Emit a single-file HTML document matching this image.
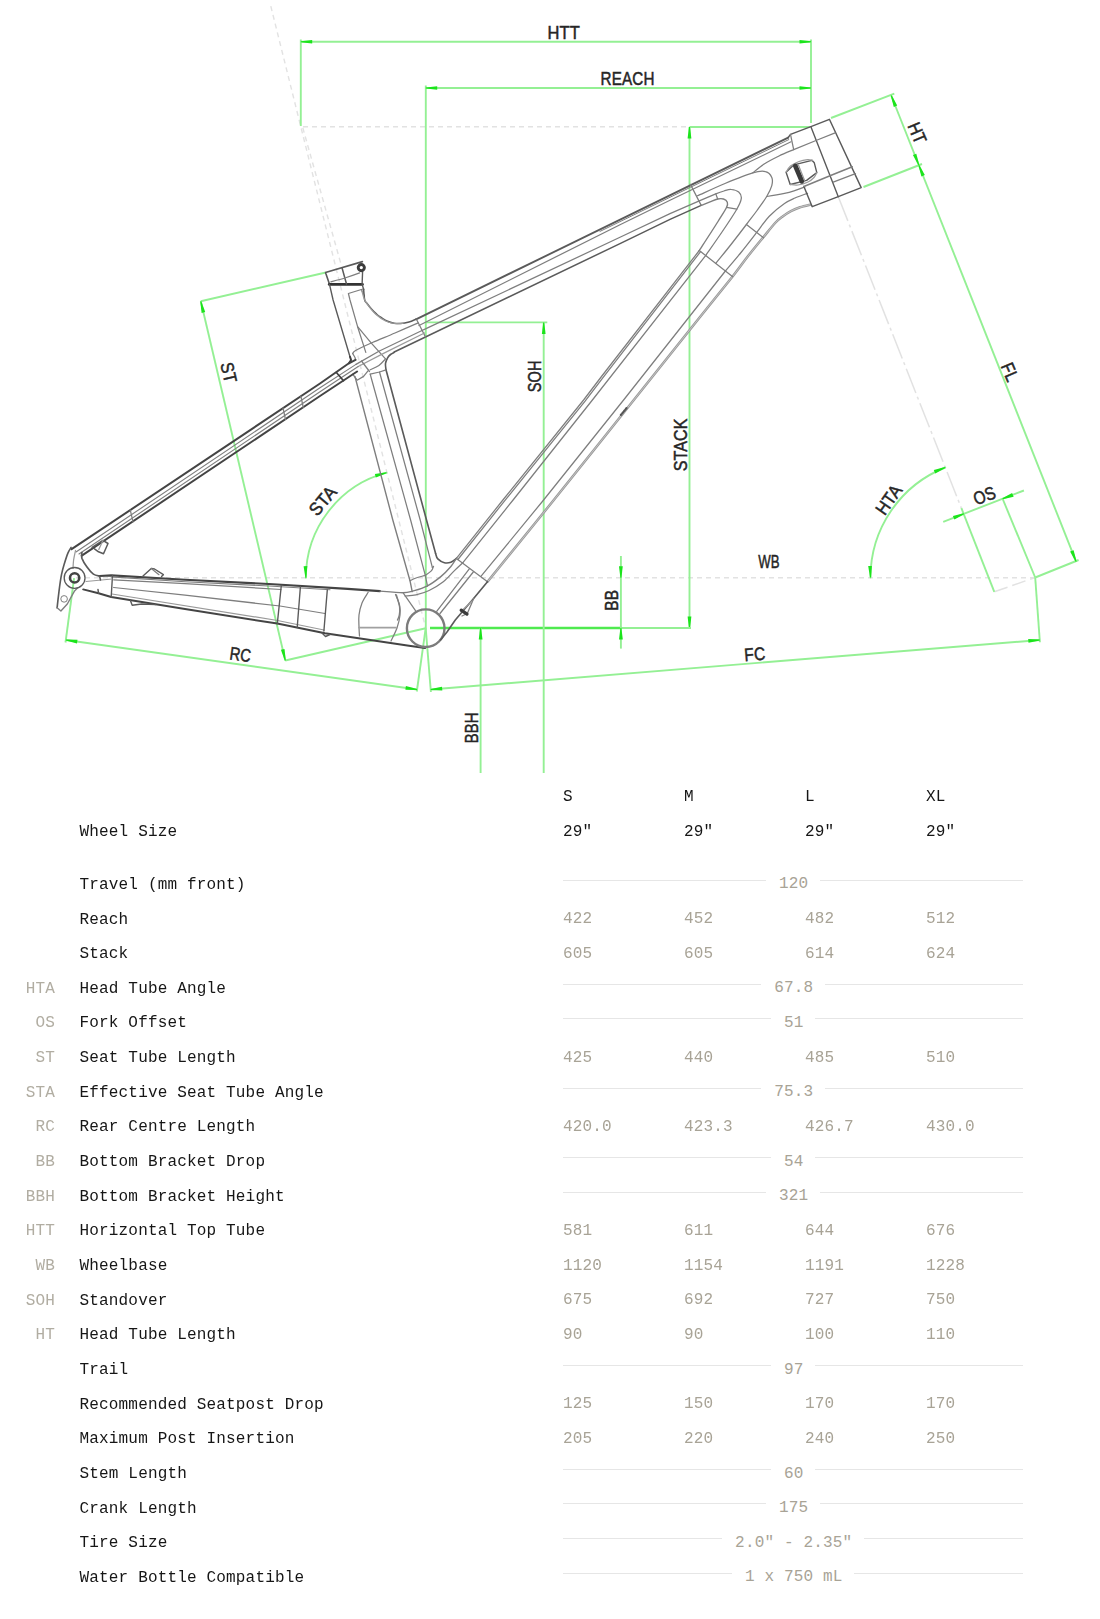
<!DOCTYPE html>
<html lang="en">
<head>
<meta charset="utf-8">
<title>Geometry</title>
<style>
html,body{margin:0;padding:0;background:#fff;}
body{width:1100px;height:1619px;position:relative;overflow:hidden;font-family:"Liberation Mono","DejaVu Sans Mono",monospace;font-size:16px;line-height:20px;letter-spacing:0.17px;color:#161616;}
#diagram{position:absolute;left:0;top:0;width:1100px;height:790px;display:block;}
.t{position:absolute;white-space:pre;height:20px;}
.ab{color:#b1ada2;text-align:right;left:0;width:55px;}
.lb{left:79.5px;}
.v{color:#a8a396;}
.hd{color:#161616;}
.ln{position:absolute;left:563px;width:460px;height:1px;background:#e6e6e6;}
.c{position:absolute;left:563px;width:460px;text-align:center;height:20px;}
.c span{background:#fff;padding:0 11.5px 0 13px;color:#a8a396;white-space:pre;}
#geo{filter:blur(0.3px);}
</style>
</head>
<body>
<svg id="diagram" width="1100" height="790" viewBox="0 0 1100 790" font-family="'Liberation Sans','DejaVu Sans',sans-serif">
<g id="construction">
<line x1="270.8" y1="6.2" x2="425.7" y2="628.2" stroke="#e2e2e2" stroke-width="1.4" stroke-dasharray="5 4"/>
<line x1="302.8" y1="127.8" x2="341.5" y2="266" stroke="#e2e2e2" stroke-width="1.4" stroke-dasharray="5 4"/>
<line x1="303" y1="126.8" x2="809" y2="126.8" stroke="#e2e2e2" stroke-width="1.4" stroke-dasharray="5 4"/>
<line x1="76" y1="577.7" x2="1035" y2="577.7" stroke="#e2e2e2" stroke-width="1.4" stroke-dasharray="5 4"/>
<line x1="838.3" y1="196.7" x2="961.4" y2="508.2" stroke="#e2e2e2" stroke-width="1.5" stroke-dasharray="26 4 3 4"/>
<line x1="994.3" y1="591.8" x2="1035.2" y2="577.5" stroke="#e2e2e2" stroke-width="1.5" stroke-dasharray="14 5"/>
</g>
<g id="dims">
<line x1="300.8" y1="41.8" x2="811" y2="41.8" stroke="#94f094" stroke-width="1.9" />
<line x1="300.8" y1="39.5" x2="300.8" y2="126" stroke="#94f094" stroke-width="1.9" />
<line x1="811" y1="39.5" x2="811" y2="123" stroke="#94f094" stroke-width="1.9" />
<polygon points="300.8,41.2 312.2,39.9 312.2,43.6 300.8,42.2" fill="#1be41b"/>
<polygon points="811,42.2 799.5,43.6 799.5,39.9 811,41.2" fill="#1be41b"/>
<line x1="425.8" y1="88" x2="811" y2="88" stroke="#94f094" stroke-width="1.9" />
<line x1="425.8" y1="85.5" x2="425.8" y2="628.2" stroke="#94f094" stroke-width="1.9" />
<polygon points="425.8,87.5 437.2,86.2 437.2,89.8 425.8,88.5" fill="#1be41b"/>
<polygon points="811,88.5 799.5,89.8 799.5,86.2 811,87.5" fill="#1be41b"/>
<line x1="689.5" y1="127" x2="810" y2="127" stroke="#94f094" stroke-width="1.9" />
<line x1="689.5" y1="127" x2="689.5" y2="628" stroke="#94f094" stroke-width="1.9" />
<polygon points="690,127 691.4,138.5 687.6,138.5 689,127" fill="#1be41b"/>
<polygon points="689,628 687.6,616.5 691.4,616.5 690,628" fill="#1be41b"/>
<line x1="430" y1="628" x2="622" y2="628" stroke="#4fea4f" stroke-width="2.6" />
<line x1="622" y1="628" x2="691" y2="628" stroke="#94f094" stroke-width="1.9" />
<line x1="425.8" y1="322.4" x2="547.3" y2="322.4" stroke="#94f094" stroke-width="1.9" />
<line x1="543.7" y1="322.4" x2="543.7" y2="773" stroke="#94f094" stroke-width="1.9" />
<polygon points="544.2,322.4 545.6,333.9 541.9,333.9 543.2,322.4" fill="#1be41b"/>
<line x1="480.6" y1="628" x2="480.6" y2="773" stroke="#94f094" stroke-width="1.9" />
<polygon points="481.1,628 482.5,639.5 478.8,639.5 480.1,628" fill="#1be41b"/>
<line x1="620.9" y1="556" x2="620.9" y2="648.6" stroke="#94f094" stroke-width="1.9" />
<polygon points="620.4,577.7 619,566.2 622.8,566.2 621.4,577.7" fill="#1be41b"/>
<polygon points="621.4,628 622.8,639.5 619,639.5 620.4,628" fill="#1be41b"/>
<line x1="325.8" y1="272.5" x2="200.8" y2="301.2" stroke="#94f094" stroke-width="1.9" />
<line x1="200.8" y1="301.2" x2="285.3" y2="660.5" stroke="#94f094" stroke-width="1.9" />
<line x1="285.3" y1="660.5" x2="425.7" y2="628.2" stroke="#94f094" stroke-width="1.9" />
<polygon points="201.2,301.1 205.2,312 201.6,312.9 200.3,301.4" fill="#1be41b"/>
<polygon points="284.8,660.6 280.9,649.7 284.5,648.9 285.8,660.4" fill="#1be41b"/>
<path d="M305.9 577.7A108.7 108.7 0 0 1 386.5 472.7" fill="none" stroke="#94f094" stroke-width="1.9" stroke-linejoin="round" stroke-linecap="round" />
<polygon points="305.4,577.7 303.6,566.3 307.3,566.1 306.4,577.7" fill="#1be41b"/>
<polygon points="386.6,473.2 375.8,477.5 374.9,473.9 386.3,472.2" fill="#1be41b"/>
<line x1="65.9" y1="640" x2="417" y2="689.5" stroke="#94f094" stroke-width="1.9" />
<line x1="74.1" y1="578.1" x2="65.5" y2="642.5" stroke="#94f094" stroke-width="1.9" />
<line x1="425.7" y1="628.2" x2="416.8" y2="691.5" stroke="#94f094" stroke-width="1.9" />
<polygon points="66,639.5 77.5,639.8 77,643.4 65.8,640.5" fill="#1be41b"/>
<polygon points="416.9,690 405.4,689.7 405.9,686.1 417.1,689" fill="#1be41b"/>
<line x1="430.7" y1="689.5" x2="1039.8" y2="640" stroke="#94f094" stroke-width="1.9" />
<line x1="425.7" y1="628.2" x2="430.9" y2="692" stroke="#94f094" stroke-width="1.9" />
<line x1="1035.2" y1="577.5" x2="1039.9" y2="642.3" stroke="#94f094" stroke-width="1.9" />
<polygon points="430.7,689 442,686.7 442.3,690.4 430.7,690" fill="#1be41b"/>
<polygon points="1039.8,640.5 1028.5,642.8 1028.2,639.1 1039.8,639.5" fill="#1be41b"/>
<path d="M870.5 577.5A118.4 118.4 0 0 1 945.2 467.5" fill="none" stroke="#94f094" stroke-width="1.9" stroke-linejoin="round" stroke-linecap="round" />
<polygon points="870,577.5 868.2,566.1 871.9,565.9 871,577.5" fill="#1be41b"/>
<polygon points="945.4,467.9 935.2,473.4 933.8,470 945,467" fill="#1be41b"/>
<line x1="961.4" y1="508.2" x2="994.3" y2="591.8" stroke="#94f094" stroke-width="1.9" />
<line x1="1002.3" y1="498" x2="1035.2" y2="577.5" stroke="#94f094" stroke-width="1.9" />
<line x1="943.2" y1="521.8" x2="1023.9" y2="490.5" stroke="#94f094" stroke-width="1.9" />
<polygon points="964.1,514.3 954.4,519.6 952.9,515.9 963.7,513.3" fill="#1be41b"/>
<polygon points="1002.4,498.3 1012.1,493 1013.6,496.7 1002.8,499.3" fill="#1be41b"/>
<line x1="891.2" y1="95.5" x2="1076.1" y2="561.6" stroke="#94f094" stroke-width="1.9" />
<line x1="831" y1="118" x2="894.3" y2="93.6" stroke="#94f094" stroke-width="1.9" />
<line x1="863.5" y1="187" x2="922" y2="164" stroke="#94f094" stroke-width="1.9" />
<line x1="1035.2" y1="577.5" x2="1078.6" y2="560" stroke="#94f094" stroke-width="1.9" />
<polygon points="891.7,95.3 897.2,105.5 893.8,106.9 890.8,95.7" fill="#1be41b"/>
<polygon points="918.4,165.3 912.9,155.1 916.3,153.7 919.3,164.9" fill="#1be41b"/>
<polygon points="919.3,164.9 924.8,175.1 921.4,176.5 918.4,165.3" fill="#1be41b"/>
<polygon points="1075.6,561.8 1070.1,551.6 1073.6,550.2 1076.6,561.4" fill="#1be41b"/>
</g>
<g id="frame">
<polyline points="416,319.3 788.2,137.6" fill="none" stroke="#5a5a5a" stroke-width="1.88" stroke-linejoin="round" stroke-linecap="round" />
<polyline points="600,231.4 690.4,187.3 788.8,139.6" fill="none" stroke="#7e7e7e" stroke-width="1.0" stroke-linejoin="round" stroke-linecap="round" />
<polyline points="419,325.5 620,224.7 670,200.3 791,141.8" fill="none" stroke="#7e7e7e" stroke-width="1.25" stroke-linejoin="round" stroke-linecap="round" />
<polyline points="422,330.5 426,328.6 620,237.3 670,213.6 699.3,200.9" fill="none" stroke="#7e7e7e" stroke-width="1.25" stroke-linejoin="round" stroke-linecap="round" />
<polyline points="394.2,352 426,336.8 620,243.6 670,219.4 701.2,205.4" fill="none" stroke="#5a5a5a" stroke-width="1.5" stroke-linejoin="round" stroke-linecap="round" />
<polyline points="416.3,319 425.5,337" fill="none" stroke="#7e7e7e" stroke-width="1.25" stroke-linejoin="round" stroke-linecap="round" />
<polyline points="690.4,184.4 701.2,205.4" fill="none" stroke="#7e7e7e" stroke-width="1.25" stroke-linejoin="round" stroke-linecap="round" />
<path d="M701.2 205.4C702.7 204.8 707.2 202.9 710 201.8C712.8 200.7 715.5 199.5 717.7 199C720 198.5 721.9 198.5 723.5 199C725.1 199.5 726.8 200.8 727.3 202.2C727.8 203.6 728.1 204.1 726.6 207.3C725.1 210.5 722.5 214.3 718 221.5C713.5 228.7 702.4 245.7 699.3 250.5" fill="none" stroke="#7e7e7e" stroke-width="1.38" stroke-linejoin="round" stroke-linecap="round" />
<polyline points="715.8,193.9 717.7,199" fill="none" stroke="#7e7e7e" stroke-width="1.25" stroke-linejoin="round" stroke-linecap="round" />
<polyline points="726.6,207.3 736.8,209.2" fill="none" stroke="#7e7e7e" stroke-width="1.25" stroke-linejoin="round" stroke-linecap="round" />
<path d="M699.3 200.9C702 199.7 711.7 195.6 715.8 193.9C719.9 192.2 721.5 191.7 724 191C726.5 190.3 728.6 189.3 731.1 189.5C733.6 189.7 737 190.5 738.7 192C740.4 193.5 741.6 195.5 741.3 198.4C741 201.3 740 203.6 736.8 209.2C733.6 214.8 727.2 224.3 722 232C716.8 239.7 708.3 251.7 705.6 255.6" fill="none" stroke="#7e7e7e" stroke-width="1.25" stroke-linejoin="round" stroke-linecap="round" />
<path d="M697.4 195.8C702 193.8 715.8 187.3 725 183.5C734.2 179.7 746 174.9 752.7 172.9C759.5 170.9 762.3 170.8 765.5 171.6C768.7 172.3 770.8 175.1 771.8 177.4C772.8 179.7 772.6 182.4 771.8 185.6C770.9 188.8 769.2 192.3 766.7 196.5C764.2 200.7 760.4 205.8 757 210.5C753.6 215.2 750.7 218.8 746.4 224.5C742.1 230.2 736.1 238 731 244.5C725.9 251 718.3 260.2 715.8 263.3" fill="none" stroke="#7e7e7e" stroke-width="1.25" stroke-linejoin="round" stroke-linecap="round" />
<path d="M752.7 172.9C754.6 171.4 759.8 166.8 764.2 164C768.6 161.2 774.1 158.4 779 156C783.9 153.6 791.2 150.7 793.7 149.6" fill="none" stroke="#7e7e7e" stroke-width="1.25" stroke-linejoin="round" stroke-linecap="round" />
<path d="M804.9 186.9C803.1 187.6 797.4 189.7 794 190.8C790.6 191.9 789 192.4 784.5 193.3C780 194.2 769.7 196 766.7 196.5" fill="none" stroke="#7e7e7e" stroke-width="1.25" stroke-linejoin="round" stroke-linecap="round" />
<path d="M807.5 193.3C805.4 194.1 798.8 196.3 795 198C791.2 199.7 788.8 200.5 784.5 203.5C780.2 206.5 774 211.3 769.3 216.2C764.6 221.1 761.2 226.6 756.5 232.7C751.8 238.8 746.2 246.1 741 252.5C735.8 258.9 728 267.9 725.4 271" fill="none" stroke="#7e7e7e" stroke-width="1.25" stroke-linejoin="round" stroke-linecap="round" />
<polyline points="456.4,558.4 502.9,500 583.6,400 601.5,376.5 699.3,250.5" fill="none" stroke="#7e7e7e" stroke-width="1.25" stroke-linejoin="round" stroke-linecap="round" />
<polyline points="457.9,559.5 504.4,501.1 585.1,401.1 603,377.6 700.6,251.6" fill="none" stroke="#7e7e7e" stroke-width="1.25" stroke-linejoin="round" stroke-linecap="round" />
<polyline points="462.9,562.7 513.1,500 592.4,400 705.6,255.6" fill="none" stroke="#7e7e7e" stroke-width="1.25" stroke-linejoin="round" stroke-linecap="round" />
<polyline points="480.9,576.4 543.6,500 623.6,400 725.4,271" fill="none" stroke="#7e7e7e" stroke-width="1.25" stroke-linejoin="round" stroke-linecap="round" />
<path d="M487.5 581.8C498.6 568.2 529.4 530.3 553.8 500C578.2 469.7 609.4 430.5 633.8 400C658.2 369.5 683.6 337.6 700 317C716.4 296.4 724.5 286.7 732.4 276.7C740.3 266.7 742.4 263.3 747.5 256.8C752.6 250.3 758.2 243.5 762.9 237.8C767.6 232.1 772.2 226.1 775.6 222.5C779 218.9 780.5 218.1 783 216.2C785.5 214.3 788.1 212.6 790.9 211.1C793.7 209.6 796.8 208.4 800 207.3C803.2 206.2 808.3 205.1 810 204.7" fill="none" stroke="#989898" stroke-width="2.5" stroke-linejoin="round" stroke-linecap="round" />
<path d="M487.5 581.8C498.6 568.2 529.4 530.3 553.8 500C578.2 469.7 609.4 430.5 633.8 400C658.2 369.5 683.6 337.6 700 317C716.4 296.4 724.5 286.7 732.4 276.7C740.3 266.7 742.4 263.3 747.5 256.8C752.6 250.3 758.2 243.5 762.9 237.8C767.6 232.1 772.2 226.1 775.6 222.5C779 218.9 780.5 218.1 783 216.2C785.5 214.3 788.1 212.6 790.9 211.1C793.7 209.6 796.8 208.4 800 207.3C803.2 206.2 808.3 205.1 810 204.7" fill="none" stroke="#ffffff" stroke-width="0.44" stroke-linejoin="round" stroke-linecap="round" />
<polyline points="746.4,224.5 763.5,237.8" fill="none" stroke="#7e7e7e" stroke-width="1.25" stroke-linejoin="round" stroke-linecap="round" />
<polyline points="699.3,250.5 732.4,276.6" fill="none" stroke="#7e7e7e" stroke-width="1.25" stroke-linejoin="round" stroke-linecap="round" />
<polyline points="456.4,558.4 487.5,581.8" fill="none" stroke="#7e7e7e" stroke-width="1.25" stroke-linejoin="round" stroke-linecap="round" />
<polyline points="620.8,415 626.6,408" fill="none" stroke="#555" stroke-width="2.12" stroke-linejoin="round" stroke-linecap="round" stroke-dasharray="1.5 1.1"/>
<polyline points="788,137.8 790.5,134.4 810.9,126.7 829.4,119.3 861.2,187.6 838.3,196.7 812.2,206.7 803.9,186.5" fill="none" stroke="#5a5a5a" stroke-width="1.44" stroke-linejoin="round" stroke-linecap="round" />
<polyline points="810.9,126.7 838.3,196.7" fill="none" stroke="#5a5a5a" stroke-width="1.38" stroke-linejoin="round" stroke-linecap="round" />
<polyline points="790.5,134.4 793.7,149.6 816,140.5 835.1,132.8" fill="none" stroke="#7e7e7e" stroke-width="1.25" stroke-linejoin="round" stroke-linecap="round" />
<polyline points="803.9,186.5 830,175.7 852.3,166.8" fill="none" stroke="#7e7e7e" stroke-width="1.5" stroke-linejoin="round" stroke-linecap="round" />
<polyline points="833.2,182.1 855.5,173.6" fill="none" stroke="#7e7e7e" stroke-width="1.25" stroke-linejoin="round" stroke-linecap="round" />
<polyline points="786.1,172.2 793.9,164.8 811.9,160.3 814.3,162.8 816.8,172.6 806.6,180.4 790.2,184.5 786.1,172.2" fill="none" stroke="#5a5a5a" stroke-width="1.38" stroke-linejoin="round" stroke-linecap="round" />
<path d="M786.1 172.2C786.8 171.2 788.4 167.8 790.5 166C792.6 164.2 796.2 162.6 799 161.5C801.8 160.4 805.2 159.8 807.5 159.6C809.8 159.4 811.7 160.2 812.5 160.3" fill="none" stroke="#9a9a9a" stroke-width="1.25" stroke-linejoin="round" stroke-linecap="round" />
<path d="M790.2 184.5C791.5 184.6 795.1 185.4 798 185C800.9 184.6 804.8 183.6 807.5 182.3C810.2 181.1 812.5 179.1 814 177.5C815.5 175.9 816.3 173.4 816.8 172.6" fill="none" stroke="#9a9a9a" stroke-width="1.25" stroke-linejoin="round" stroke-linecap="round" />
<polyline points="795.4,166 801.9,181.2" fill="none" stroke="#3a3a3a" stroke-width="4.75" stroke-linejoin="round" stroke-linecap="round" />
<polyline points="798.5,165.2 804.6,180.6" fill="none" stroke="#9a9a9a" stroke-width="1.25" stroke-linejoin="round" stroke-linecap="round" />
<polyline points="329.5,284.3 325.5,272.5 362.4,261.6" fill="none" stroke="#5a5a5a" stroke-width="1.62" stroke-linejoin="round" stroke-linecap="round" />
<polyline points="329.3,284.4 362.4,284.4" fill="none" stroke="#333333" stroke-width="2.88" stroke-linejoin="round" stroke-linecap="round" />
<polyline points="342,267.7 346.5,284" fill="none" stroke="#5a5a5a" stroke-width="1.5" stroke-linejoin="round" stroke-linecap="round" />
<path d="M330.9 281.8C333.2 281.2 340.1 279.5 344.9 278C349.7 276.5 357.2 273.8 359.6 272.9" fill="none" stroke="#7e7e7e" stroke-width="1.25" stroke-linejoin="round" stroke-linecap="round" />
<polyline points="362.6,271.5 362.1,284.4 363.7,289.5" fill="none" stroke="#5a5a5a" stroke-width="1.38" stroke-linejoin="round" stroke-linecap="round" />
<circle cx="361.3" cy="267.6" r="3.1" fill="none" stroke="#3c3c3c" stroke-width="2.9"/>
<polyline points="329.5,284.3 333.1,300 350,356.7" fill="none" stroke="#5a5a5a" stroke-width="1.38" stroke-linejoin="round" stroke-linecap="round" />
<polyline points="350,356.7 351.1,360 348.9,363.3" fill="none" stroke="#404040" stroke-width="2.0" stroke-linejoin="round" stroke-linecap="round" />
<polyline points="354.9,376.4 355.9,380 392.8,520 410,580.7 412.2,591.6" fill="none" stroke="#7e7e7e" stroke-width="1.38" stroke-linejoin="round" stroke-linecap="round" />
<polyline points="363,289 348.4,293.5 350,300 357.6,326.7 365.8,352.4" fill="none" stroke="#7e7e7e" stroke-width="1.25" stroke-linejoin="round" stroke-linecap="round" />
<polyline points="361.5,290 364.5,296" fill="none" stroke="#7e7e7e" stroke-width="1.25" stroke-linejoin="round" stroke-linecap="round" />
<path d="M363.6 289C363.8 290.8 364.1 297.6 364.7 300C365.2 302.4 365.8 301.8 366.9 303.3C368 304.8 369.9 307.2 371.5 309C373.1 310.8 374.9 312.7 376.7 314.2C378.4 315.7 380.2 316.8 382 318C383.8 319.2 385.6 320.4 387.6 321.3C389.6 322.2 391.8 322.8 394 323.2C396.2 323.6 398.2 323.7 400.7 323.5C403.2 323.3 406.4 322.7 409 322C411.6 321.3 414.8 319.6 416 319.1" fill="none" stroke="#5a5a5a" stroke-width="1.5" stroke-linejoin="round" stroke-linecap="round" />
<path d="M361.8 290.5C362.2 292 363.3 296.8 364.5 299.5C365.7 302.2 367.2 304.1 369 306.5C370.8 308.9 372.8 311.6 375.5 314C378.2 316.4 382.2 319.4 385.5 321C388.8 322.6 392.1 323.1 395 323.5C397.9 323.9 401.7 323.4 403 323.4" fill="none" stroke="#9a9a9a" stroke-width="1.25" stroke-linejoin="round" stroke-linecap="round" />
<path d="M394.2 352.4C393.6 352.8 391.6 353.6 390.5 354.5C389.4 355.4 388.4 356.3 387.6 357.8C386.8 359.3 385.8 361.3 385.5 363.3C385.2 365.3 385.9 368.7 386 369.8" fill="none" stroke="#5a5a5a" stroke-width="1.62" stroke-linejoin="round" stroke-linecap="round" />
<polyline points="386,369.8 387.7,376 426.5,520 435.6,553.5" fill="none" stroke="#5a5a5a" stroke-width="1.62" stroke-linejoin="round" stroke-linecap="round" />
<polyline points="370.2,374.2 371.8,380 410.6,520 425.3,575.3 427.5,586.2" fill="none" stroke="#7e7e7e" stroke-width="1.25" stroke-linejoin="round" stroke-linecap="round" />
<polyline points="379.5,372 381.7,380 420.2,520 432.4,567.6" fill="none" stroke="#7e7e7e" stroke-width="1.25" stroke-linejoin="round" stroke-linecap="round" />
<path d="M432.4 567.6C432.6 567.4 433.7 566 433.5 566.5C433.3 567 432.7 569.4 431.3 570.9C429.9 572.4 426.3 574.6 425.3 575.3" fill="none" stroke="#7e7e7e" stroke-width="1.25" stroke-linejoin="round" stroke-linecap="round" />
<path d="M410 580.7C411 580.2 413.4 578.9 416 578C418.6 577.1 423.8 575.8 425.3 575.3" fill="none" stroke="#7e7e7e" stroke-width="1.25" stroke-linejoin="round" stroke-linecap="round" />
<polyline points="370.2,374.2 379.5,372 386,369.8" fill="none" stroke="#7e7e7e" stroke-width="1.25" stroke-linejoin="round" stroke-linecap="round" />
<polyline points="357.6,326.7 371.3,343.1 385.5,358.9" fill="none" stroke="#7e7e7e" stroke-width="1.25" stroke-linejoin="round" stroke-linecap="round" />
<path d="M385.5 358.9C384.4 360 381.4 363.7 378.9 365.5C376.3 367.3 371.6 369.1 370.2 369.8" fill="none" stroke="#7e7e7e" stroke-width="1.25" stroke-linejoin="round" stroke-linecap="round" />
<path d="M418.2 322.9C414.3 324.6 402.6 329.7 395 333C387.4 336.3 378.9 339.6 372.4 342.5C365.9 345.4 359.3 348.4 356 350.2C352.7 352 353.2 352.9 352.7 353.5" fill="none" stroke="#7e7e7e" stroke-width="1.25" stroke-linejoin="round" stroke-linecap="round" />
<polyline points="352.7,353.5 355,357.5 355.5,359.8" fill="none" stroke="#7e7e7e" stroke-width="1.25" stroke-linejoin="round" stroke-linecap="round" />
<polyline points="422,330.5 378.9,351.3 356,364.4" fill="none" stroke="#7e7e7e" stroke-width="1.25" stroke-linejoin="round" stroke-linecap="round" />
<polyline points="424.5,333 385.5,352.4 358.2,366.5" fill="none" stroke="#9a9a9a" stroke-width="1.25" stroke-linejoin="round" stroke-linecap="round" />
<polyline points="352.7,374.2 357.1,380.2 363.6,376.4 368,370.9" fill="none" stroke="#7e7e7e" stroke-width="1.25" stroke-linejoin="round" stroke-linecap="round" />
<polyline points="361.5,361 369.5,371.5" fill="none" stroke="#7e7e7e" stroke-width="1.25" stroke-linejoin="round" stroke-linecap="round" />
<path d="M435.6 553.5C436 554.4 436.3 557.4 437.8 558.9C439.3 560.4 442.2 562.2 444.4 562.7C446.6 563.2 448.9 562.9 450.9 562.2C452.9 561.5 455.5 559 456.4 558.4" fill="none" stroke="#5a5a5a" stroke-width="1.62" stroke-linejoin="round" stroke-linecap="round" />
<polyline points="355.5,359.8 348.9,363.3 320,383.5 71.6,549.2" fill="none" stroke="#444444" stroke-width="2.0" stroke-linejoin="round" stroke-linecap="round" />
<polyline points="356,364.4 320,387.8 76,552" fill="none" stroke="#7e7e7e" stroke-width="1.12" stroke-linejoin="round" stroke-linecap="round" />
<polyline points="358.2,366.5 320,391.8 79,554" fill="none" stroke="#7e7e7e" stroke-width="1.12" stroke-linejoin="round" stroke-linecap="round" />
<polyline points="357.1,371.5 320,396 81.8,555.6" fill="none" stroke="#444444" stroke-width="2.0" stroke-linejoin="round" stroke-linecap="round" />
<polyline points="336.4,372.5 343.5,380.7" fill="none" stroke="#404040" stroke-width="1.75" stroke-linejoin="round" stroke-linecap="round" />
<polyline points="283,408 285.5,419.5" fill="none" stroke="#7e7e7e" stroke-width="1.25" stroke-linejoin="round" stroke-linecap="round" />
<polyline points="130.3,510.2 133,521.8" fill="none" stroke="#7e7e7e" stroke-width="1.25" stroke-linejoin="round" stroke-linecap="round" />
<polyline points="300.8,396 303.3,407.5" fill="none" stroke="#7e7e7e" stroke-width="1.25" stroke-linejoin="round" stroke-linecap="round" />
<path d="M71.1 547.4C70.6 548.4 69.1 550.2 67.9 553.1C66.7 556 65.2 560.9 64.1 564.5C63 568.1 62.4 570.2 61.5 574.7C60.6 579.2 59.7 585.8 59 591.3C58.3 596.8 57.4 605 57.1 607.8" fill="none" stroke="#5a5a5a" stroke-width="1.62" stroke-linejoin="round" stroke-linecap="round" />
<polyline points="57.1,607.8 60.9,611 67.3,604 74.3,591.3 77.5,588" fill="none" stroke="#7e7e7e" stroke-width="1.38" stroke-linejoin="round" stroke-linecap="round" />
<path d="M81.9 552.5C81.9 553.5 81.1 555.8 81.9 558.2C82.8 560.6 85.1 564.5 87 567.1C88.9 569.8 91.3 572.6 93.4 574.1C95.5 575.6 98.7 575.7 99.7 576" fill="none" stroke="#5a5a5a" stroke-width="1.75" stroke-linejoin="round" stroke-linecap="round" />
<path d="M75.5 550.5C75.2 552.1 74 557 73.6 560C73.2 563 73.1 567 73 568.4" fill="none" stroke="#9a9a9a" stroke-width="1.25" stroke-linejoin="round" stroke-linecap="round" />
<circle cx="74.6" cy="577.9" r="10.4" fill="none" stroke="#5a5a5a" stroke-width="1.3"/>
<circle cx="74.6" cy="577.9" r="4.6" fill="none" stroke="#444444" stroke-width="2.6"/>
<polyline points="92.1,547.4 102.9,540.4 108,543.5 103.5,553.7 98.5,551.8 94.5,548.8" fill="none" stroke="#5a5a5a" stroke-width="1.5" stroke-linejoin="round" stroke-linecap="round" />
<polyline points="102.9,540.4 98.8,549.5" fill="none" stroke="#9a9a9a" stroke-width="1.25" stroke-linejoin="round" stroke-linecap="round" />
<circle cx="64.1" cy="598.9" r="3.3" fill="none" stroke="#7e7e7e" stroke-width="1"/>
<polyline points="99.7,576 111.2,575.4 185,579.8 269,584 347.7,588.9 380,591.1" fill="none" stroke="#444444" stroke-width="2.12" stroke-linejoin="round" stroke-linecap="round" />
<polyline points="111.2,576.9 185,581.8 269,586 330,589.7" fill="none" stroke="#7e7e7e" stroke-width="1.12" stroke-linejoin="round" stroke-linecap="round" />
<polyline points="113.7,579.8 185,583.6 281,589.5" fill="none" stroke="#7e7e7e" stroke-width="1.25" stroke-linejoin="round" stroke-linecap="round" />
<polyline points="83.2,589.4 98.5,593.2 111.2,597 185,609.1 277.3,623.6 325,633.2 409,645.7 425,648" fill="none" stroke="#444444" stroke-width="2.0" stroke-linejoin="round" stroke-linecap="round" />
<polyline points="112,594 277.5,620.5 324,630" fill="none" stroke="#9a9a9a" stroke-width="1.25" stroke-linejoin="round" stroke-linecap="round" />
<polyline points="113.7,587.5 185,595.1 280,606 325,613.5" fill="none" stroke="#7e7e7e" stroke-width="1.25" stroke-linejoin="round" stroke-linecap="round" />
<polyline points="112.5,575.4 111.2,597" fill="none" stroke="#5a5a5a" stroke-width="1.38" stroke-linejoin="round" stroke-linecap="round" />
<polyline points="86,581.5 112,579" fill="none" stroke="#9a9a9a" stroke-width="1.25" stroke-linejoin="round" stroke-linecap="round" />
<polyline points="99.5,576 100.5,580" fill="none" stroke="#5a5a5a" stroke-width="1.5" stroke-linejoin="round" stroke-linecap="round" />
<polyline points="98,589.5 98.5,593.2" fill="none" stroke="#5a5a5a" stroke-width="1.5" stroke-linejoin="round" stroke-linecap="round" />
<polyline points="281.3,585.5 277.3,623.6" fill="none" stroke="#5a5a5a" stroke-width="1.38" stroke-linejoin="round" stroke-linecap="round" />
<polyline points="300.4,586.8 297.2,627.5" fill="none" stroke="#5a5a5a" stroke-width="1.38" stroke-linejoin="round" stroke-linecap="round" />
<polyline points="327.3,590 323.9,631" fill="none" stroke="#5a5a5a" stroke-width="1.38" stroke-linejoin="round" stroke-linecap="round" />
<polyline points="143,576 151.3,568.4 154.5,569 163.4,574.7 161.5,576.6" fill="none" stroke="#5a5a5a" stroke-width="1.38" stroke-linejoin="round" stroke-linecap="round" />
<polyline points="151.3,568.4 159,574.7" fill="none" stroke="#7e7e7e" stroke-width="1.25" stroke-linejoin="round" stroke-linecap="round" />
<polyline points="130.3,600.2 132.2,605.3 141.7,604 155.7,604.6" fill="none" stroke="#5a5a5a" stroke-width="1.38" stroke-linejoin="round" stroke-linecap="round" />
<polyline points="322,633 325.5,636.5 330,634.5" fill="none" stroke="#5a5a5a" stroke-width="1.38" stroke-linejoin="round" stroke-linecap="round" />
<path d="M368.2 592.3C367.2 594.1 363.5 599.2 362 603C360.5 606.8 359.5 611 359 615C358.5 619 358.9 623.5 359 627C359.1 630.5 359.4 634.5 359.5 636" fill="none" stroke="#7e7e7e" stroke-width="1.25" stroke-linejoin="round" stroke-linecap="round" />
<path d="M395.5 594.5C396.2 596.2 398.8 601.6 399.5 605C400.2 608.4 400.4 611.2 400 615C399.6 618.8 398.5 623.7 397 628C395.5 632.3 392 638.8 391 641" fill="none" stroke="#7e7e7e" stroke-width="1.25" stroke-linejoin="round" stroke-linecap="round" />
<polyline points="359,627.5 396,627.5" fill="none" stroke="#a0a0a0" stroke-width="1.75" stroke-linejoin="round" stroke-linecap="round" />
<path d="M380 591.1C383.8 591.4 397.4 592.7 402.9 592.7C408.3 592.7 408.7 592.2 412.7 591.1C416.7 590 422.2 588.7 426.9 586.2C431.6 583.8 437.1 579.7 441.1 576.4C445.1 573.1 448.3 569.5 450.9 566.5C453.4 563.5 455.5 559.8 456.4 558.4" fill="none" stroke="#7e7e7e" stroke-width="1.38" stroke-linejoin="round" stroke-linecap="round" />
<path d="M405.1 596C406.9 595.8 412 595.8 416 594.9C420 594 424.6 592.7 429.1 590.5C433.7 588.3 439.1 585.1 443.3 581.8C447.5 578.5 450.9 574.1 454.2 570.9C457.5 567.7 461.4 564.1 462.9 562.7" fill="none" stroke="#7e7e7e" stroke-width="1.25" stroke-linejoin="round" stroke-linecap="round" />
<polyline points="403.5,593.3 416,611.3" fill="none" stroke="#7e7e7e" stroke-width="1.25" stroke-linejoin="round" stroke-linecap="round" />
<path d="M396.4 594.9C396.9 596.9 399.1 603.5 399.6 606.9C400.1 610.2 399.7 612.8 399.3 615C398.9 617.2 397.8 619.2 397.5 620" fill="none" stroke="#7e7e7e" stroke-width="1.38" stroke-linejoin="round" stroke-linecap="round" />
<circle cx="425.7" cy="628.2" r="18.8" fill="none" stroke="#7c7c7c" stroke-width="2.4"/>
<polyline points="487.5,581.8 473.8,598.2 455.3,620 447,632 440.5,640" fill="none" stroke="#5a5a5a" stroke-width="1.62" stroke-linejoin="round" stroke-linecap="round" />
<polyline points="469.5,568.7 436.7,611.3" fill="none" stroke="#7e7e7e" stroke-width="1.25" stroke-linejoin="round" stroke-linecap="round" />
<polyline points="473.3,572 440,613.5" fill="none" stroke="#7e7e7e" stroke-width="1.25" stroke-linejoin="round" stroke-linecap="round" />
<polyline points="473.8,598.2 467.3,613.5 462,616" fill="none" stroke="#7e7e7e" stroke-width="1.25" stroke-linejoin="round" stroke-linecap="round" />
<polyline points="472,601 461,611.5" fill="none" stroke="#9a9a9a" stroke-width="1.25" stroke-linejoin="round" stroke-linecap="round" />
<polyline points="461.2,610.2 467,614.2" fill="none" stroke="#3c3c3c" stroke-width="3.25" stroke-linejoin="round" stroke-linecap="round" />
</g>
<g id="labels">
<text x="563.7" y="38.7" font-size="18.2" text-anchor="middle" textLength="32.5" lengthAdjust="spacingAndGlyphs" fill="#262626" stroke="#262626" stroke-width="0.5">HTT</text>
<text x="627.6" y="85" font-size="18.2" text-anchor="middle" textLength="54" lengthAdjust="spacingAndGlyphs" fill="#262626" stroke="#262626" stroke-width="0.5">REACH</text>
<text x="917.4" y="139.5" font-size="18.2" text-anchor="middle" textLength="21.5" lengthAdjust="spacingAndGlyphs" transform="rotate(67 917.4 133)" fill="#262626" stroke="#262626" stroke-width="0.5">HT</text>
<text x="1010" y="378.5" font-size="18.2" text-anchor="middle" textLength="18.5" lengthAdjust="spacingAndGlyphs" transform="rotate(67 1010 372)" fill="#262626" stroke="#262626" stroke-width="0.5">FL</text>
<text x="229" y="379" font-size="18.2" text-anchor="middle" textLength="20.5" lengthAdjust="spacingAndGlyphs" transform="rotate(77 229 372.5)" fill="#262626" stroke="#262626" stroke-width="0.5">ST</text>
<text x="534.2" y="382.8" font-size="18.2" text-anchor="middle" textLength="32" lengthAdjust="spacingAndGlyphs" transform="rotate(-90 534.2 376.3)" fill="#262626" stroke="#262626" stroke-width="0.5">SOH</text>
<text x="680.4" y="451.3" font-size="18.2" text-anchor="middle" textLength="53" lengthAdjust="spacingAndGlyphs" transform="rotate(-90 680.4 444.8)" fill="#262626" stroke="#262626" stroke-width="0.5">STACK</text>
<text x="611.8" y="606.7" font-size="18.2" text-anchor="middle" textLength="21" lengthAdjust="spacingAndGlyphs" transform="rotate(-90 611.8 600.2)" fill="#262626" stroke="#262626" stroke-width="0.5">BB</text>
<text x="471.7" y="734.3" font-size="18.2" text-anchor="middle" textLength="31" lengthAdjust="spacingAndGlyphs" transform="rotate(-90 471.7 727.8)" fill="#262626" stroke="#262626" stroke-width="0.5">BBH</text>
<text x="768.9" y="568.3" font-size="18.2" text-anchor="middle" textLength="21.5" lengthAdjust="spacingAndGlyphs" fill="#262626" stroke="#262626" stroke-width="0.5">WB</text>
<text x="754.8" y="660.5" font-size="18.2" text-anchor="middle" textLength="21" lengthAdjust="spacingAndGlyphs" transform="rotate(-4.6 754.8 654)" fill="#262626" stroke="#262626" stroke-width="0.5">FC</text>
<text x="240.5" y="660.9" font-size="18.2" text-anchor="middle" textLength="21.5" lengthAdjust="spacingAndGlyphs" transform="rotate(8 240.5 654.4)" fill="#262626" stroke="#262626" stroke-width="0.5">RC</text>
<text x="322.5" y="507" font-size="18.2" text-anchor="middle" textLength="32" lengthAdjust="spacingAndGlyphs" transform="rotate(-50 322.5 500.5)" fill="#262626" stroke="#262626" stroke-width="0.5">STA</text>
<text x="888.6" y="506" font-size="18.2" text-anchor="middle" textLength="32" lengthAdjust="spacingAndGlyphs" transform="rotate(-55 888.6 499.5)" fill="#262626" stroke="#262626" stroke-width="0.5">HTA</text>
<text x="984.5" y="501.9" font-size="18.2" text-anchor="middle" textLength="22.5" lengthAdjust="spacingAndGlyphs" transform="rotate(-21 984.5 495.4)" fill="#262626" stroke="#262626" stroke-width="0.5">OS</text>
</g>
</svg>
<div id="geo">
<div class="t hd" style="left:563px;top:787.3px">S</div>
<div class="t hd" style="left:684px;top:787.3px">M</div>
<div class="t hd" style="left:805px;top:787.3px">L</div>
<div class="t hd" style="left:926px;top:787.3px">XL</div>
<div class="t lb" style="top:821.9px">Wheel Size</div><div class="t hd" style="left:563px;top:821.5px">29&quot;</div><div class="t hd" style="left:684px;top:821.5px">29&quot;</div><div class="t hd" style="left:805px;top:821.5px">29&quot;</div><div class="t hd" style="left:926px;top:821.5px">29&quot;</div>
<div class="t lb" style="top:874.8px">Travel (mm front)</div><div class="ln" style="top:879.7px"></div><div class="c" style="top:874.4px"><span>120</span></div>
<div class="t lb" style="top:909.5px">Reach</div><div class="t v" style="left:563px;top:909.1px">422</div><div class="t v" style="left:684px;top:909.1px">452</div><div class="t v" style="left:805px;top:909.1px">482</div><div class="t v" style="left:926px;top:909.1px">512</div>
<div class="t lb" style="top:944.1px">Stack</div><div class="t v" style="left:563px;top:943.7px">605</div><div class="t v" style="left:684px;top:943.7px">605</div><div class="t v" style="left:805px;top:943.7px">614</div><div class="t v" style="left:926px;top:943.7px">624</div>
<div class="t ab" style="top:978.8px">HTA</div><div class="t lb" style="top:978.8px">Head Tube Angle</div><div class="ln" style="top:983.7px"></div><div class="c" style="top:978.4px"><span>67.8</span></div>
<div class="t ab" style="top:1013.4px">OS</div><div class="t lb" style="top:1013.4px">Fork Offset</div><div class="ln" style="top:1018.3px"></div><div class="c" style="top:1013.0px"><span>51</span></div>
<div class="t ab" style="top:1048.1px">ST</div><div class="t lb" style="top:1048.1px">Seat Tube Length</div><div class="t v" style="left:563px;top:1047.7px">425</div><div class="t v" style="left:684px;top:1047.7px">440</div><div class="t v" style="left:805px;top:1047.7px">485</div><div class="t v" style="left:926px;top:1047.7px">510</div>
<div class="t ab" style="top:1082.7px">STA</div><div class="t lb" style="top:1082.7px">Effective Seat Tube Angle</div><div class="ln" style="top:1087.6px"></div><div class="c" style="top:1082.3px"><span>75.3</span></div>
<div class="t ab" style="top:1117.4px">RC</div><div class="t lb" style="top:1117.4px">Rear Centre Length</div><div class="t v" style="left:563px;top:1117.0px">420.0</div><div class="t v" style="left:684px;top:1117.0px">423.3</div><div class="t v" style="left:805px;top:1117.0px">426.7</div><div class="t v" style="left:926px;top:1117.0px">430.0</div>
<div class="t ab" style="top:1152.0px">BB</div><div class="t lb" style="top:1152.0px">Bottom Bracket Drop</div><div class="ln" style="top:1156.9px"></div><div class="c" style="top:1151.6px"><span>54</span></div>
<div class="t ab" style="top:1186.7px">BBH</div><div class="t lb" style="top:1186.7px">Bottom Bracket Height</div><div class="ln" style="top:1191.6px"></div><div class="c" style="top:1186.3px"><span>321</span></div>
<div class="t ab" style="top:1221.3px">HTT</div><div class="t lb" style="top:1221.3px">Horizontal Top Tube</div><div class="t v" style="left:563px;top:1220.9px">581</div><div class="t v" style="left:684px;top:1220.9px">611</div><div class="t v" style="left:805px;top:1220.9px">644</div><div class="t v" style="left:926px;top:1220.9px">676</div>
<div class="t ab" style="top:1256.0px">WB</div><div class="t lb" style="top:1256.0px">Wheelbase</div><div class="t v" style="left:563px;top:1255.6px">1120</div><div class="t v" style="left:684px;top:1255.6px">1154</div><div class="t v" style="left:805px;top:1255.6px">1191</div><div class="t v" style="left:926px;top:1255.6px">1228</div>
<div class="t ab" style="top:1290.6px">SOH</div><div class="t lb" style="top:1290.6px">Standover</div><div class="t v" style="left:563px;top:1290.2px">675</div><div class="t v" style="left:684px;top:1290.2px">692</div><div class="t v" style="left:805px;top:1290.2px">727</div><div class="t v" style="left:926px;top:1290.2px">750</div>
<div class="t ab" style="top:1325.3px">HT</div><div class="t lb" style="top:1325.3px">Head Tube Length</div><div class="t v" style="left:563px;top:1324.9px">90</div><div class="t v" style="left:684px;top:1324.9px">90</div><div class="t v" style="left:805px;top:1324.9px">100</div><div class="t v" style="left:926px;top:1324.9px">110</div>
<div class="t lb" style="top:1359.9px">Trail</div><div class="ln" style="top:1364.8px"></div><div class="c" style="top:1359.5px"><span>97</span></div>
<div class="t lb" style="top:1394.6px">Recommended Seatpost Drop</div><div class="t v" style="left:563px;top:1394.2px">125</div><div class="t v" style="left:684px;top:1394.2px">150</div><div class="t v" style="left:805px;top:1394.2px">170</div><div class="t v" style="left:926px;top:1394.2px">170</div>
<div class="t lb" style="top:1429.2px">Maximum Post Insertion</div><div class="t v" style="left:563px;top:1428.8px">205</div><div class="t v" style="left:684px;top:1428.8px">220</div><div class="t v" style="left:805px;top:1428.8px">240</div><div class="t v" style="left:926px;top:1428.8px">250</div>
<div class="t lb" style="top:1463.9px">Stem Length</div><div class="ln" style="top:1468.8px"></div><div class="c" style="top:1463.5px"><span>60</span></div>
<div class="t lb" style="top:1498.5px">Crank Length</div><div class="ln" style="top:1503.4px"></div><div class="c" style="top:1498.1px"><span>175</span></div>
<div class="t lb" style="top:1533.2px">Tire Size</div><div class="ln" style="top:1538.1px"></div><div class="c" style="top:1532.8px"><span>2.0&quot; - 2.35&quot;</span></div>
<div class="t lb" style="top:1567.8px">Water Bottle Compatible</div><div class="ln" style="top:1572.7px"></div><div class="c" style="top:1567.4px"><span>1 x 750 mL</span></div>
</div>
</body>
</html>
